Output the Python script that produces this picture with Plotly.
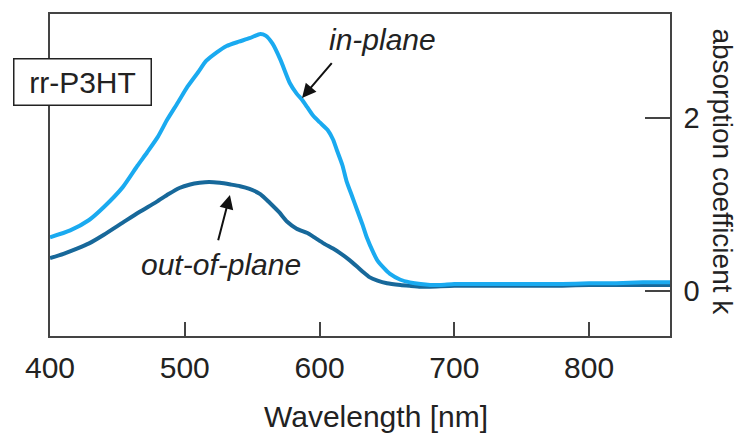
import plotly.graph_objects as go

# Absorption coefficient k of rr-P3HT, in-plane vs out-of-plane
wl_in = [400, 415, 429, 440, 454, 465, 472, 480, 487, 495, 502, 510, 516,
         524, 531, 540, 548, 556, 560, 565, 571, 578, 583, 587, 591, 595, 600,
         606, 610, 613, 617, 620, 624, 628, 632, 635, 640, 643, 648, 652, 660,
         667, 675, 682, 690, 700, 720, 740, 760, 780, 800, 820, 840, 860]
k_in = [0.62, 0.70, 0.82, 0.97, 1.20, 1.45, 1.60, 1.78, 1.98, 2.18, 2.36,
        2.53, 2.66, 2.76, 2.83, 2.88, 2.92, 2.97, 2.95, 2.86, 2.67, 2.40, 2.28,
        2.21, 2.12, 2.03, 1.95, 1.86, 1.75, 1.62, 1.45, 1.27, 1.10, 0.93, 0.76,
        0.62, 0.44, 0.35, 0.26, 0.20, 0.13, 0.10, 0.08, 0.07, 0.07, 0.08, 0.08,
        0.08, 0.08, 0.08, 0.09, 0.09, 0.10, 0.10]

wl_out = [400, 410, 420, 429, 440, 454, 466, 479, 488, 496, 504, 511, 518, 526,
          534, 541, 548, 556, 563, 570, 576, 583, 591, 597, 603, 610, 615, 622,
          628, 633, 637, 643, 650, 660, 667, 675, 682, 700, 720, 740, 760, 780,
          800, 820, 840, 860]
k_out = [0.38, 0.43, 0.49, 0.55, 0.65, 0.79, 0.91, 1.03, 1.12, 1.19, 1.23, 1.25,
         1.26, 1.25, 1.23, 1.21, 1.18, 1.12, 1.02, 0.91, 0.80, 0.72, 0.67, 0.61,
         0.55, 0.49, 0.44, 0.36, 0.28, 0.21, 0.16, 0.12, 0.09, 0.07, 0.06, 0.05,
         0.05, 0.06, 0.06, 0.06, 0.06, 0.06, 0.07, 0.07, 0.07, 0.07]

x_ticks = [400, 500, 600, 700, 800]
y_ticks = [0, 2]

FONT = "Liberation Sans, Arial, sans-serif"
AXIS = "#444444"

fig = go.Figure()
fig.add_trace(go.Scatter(x=wl_out, y=k_out, mode="lines",
                         line=dict(color="#17689a", width=4, shape="spline", smoothing=0.6),
                         name="out-of-plane"))
fig.add_trace(go.Scatter(x=wl_in, y=k_in, mode="lines",
                         line=dict(color="#1aaaf0", width=4, shape="spline", smoothing=0.6),
                         name="in-plane"))

fig.update_layout(
    width=741, height=433,
    margin=dict(l=50, r=71, t=14, b=97),
    paper_bgcolor="white", plot_bgcolor="white",
    showlegend=False,
    font=dict(family=FONT, size=30, color="#222222"),
    xaxis=dict(range=[400, 860], tickvals=x_ticks, ticks="inside", ticklen=14,
               tickwidth=1.5, tickcolor=AXIS, showline=True, linecolor=AXIS,
               linewidth=1.5, mirror=True, showgrid=False, zeroline=False,
               ticklabelstandoff=4, tickfont=dict(size=30)),
    yaxis=dict(range=[-0.52, 3.2], tickvals=y_ticks, side="right", ticks="inside",
               ticklen=25, tickwidth=1.5, tickcolor=AXIS, showline=True,
               linecolor=AXIS, linewidth=1.5, mirror=True, showgrid=False,
               zeroline=False, ticklabelstandoff=6, tickfont=dict(size=29)),
)

annotations = [
    # axis titles
    dict(text="Wavelength [nm]", xref="paper", yref="paper", x=0.526, y=-0.25,
         xanchor="center", yanchor="middle", showarrow=False, font=dict(size=30)),
    dict(text="absorption coefficient k", xref="paper", yref="paper", x=1.085, y=0.509,
         xanchor="center", yanchor="middle", textangle=90, showarrow=False,
         font=dict(size=28)),
    # sample label
    dict(text="rr-P3HT", xref="paper", yref="paper", x=0.053, y=0.79,
         xanchor="center", yanchor="middle", showarrow=False, font=dict(size=30),
         bgcolor="white", bordercolor="#222222", borderwidth=1.5, borderpad=1,
         width=134, height=43),
    # curve labels with arrows
    dict(text="<i>in-plane</i>", x=646.6, y=2.90, xref="x", yref="y",
         showarrow=False, font=dict(size=30)),
    dict(x=587, y=2.23, ax=610, ay=2.65, xref="x", yref="y", axref="x", ayref="y",
         text="", showarrow=True, arrowhead=2, arrowsize=1.4, arrowwidth=2,
         arrowcolor="#111111"),
    dict(text="<i>out-of-plane</i>", x=526.8, y=0.31, xref="x", yref="y",
         showarrow=False, font=dict(size=30)),
    dict(x=533.5, y=1.11, ax=524.5, ay=0.57, xref="x", yref="y", axref="x", ayref="y",
         text="", showarrow=True, arrowhead=2, arrowsize=1.4, arrowwidth=2,
         arrowcolor="#111111"),
]
fig.update_layout(annotations=annotations)

fig.write_html("out.html")
